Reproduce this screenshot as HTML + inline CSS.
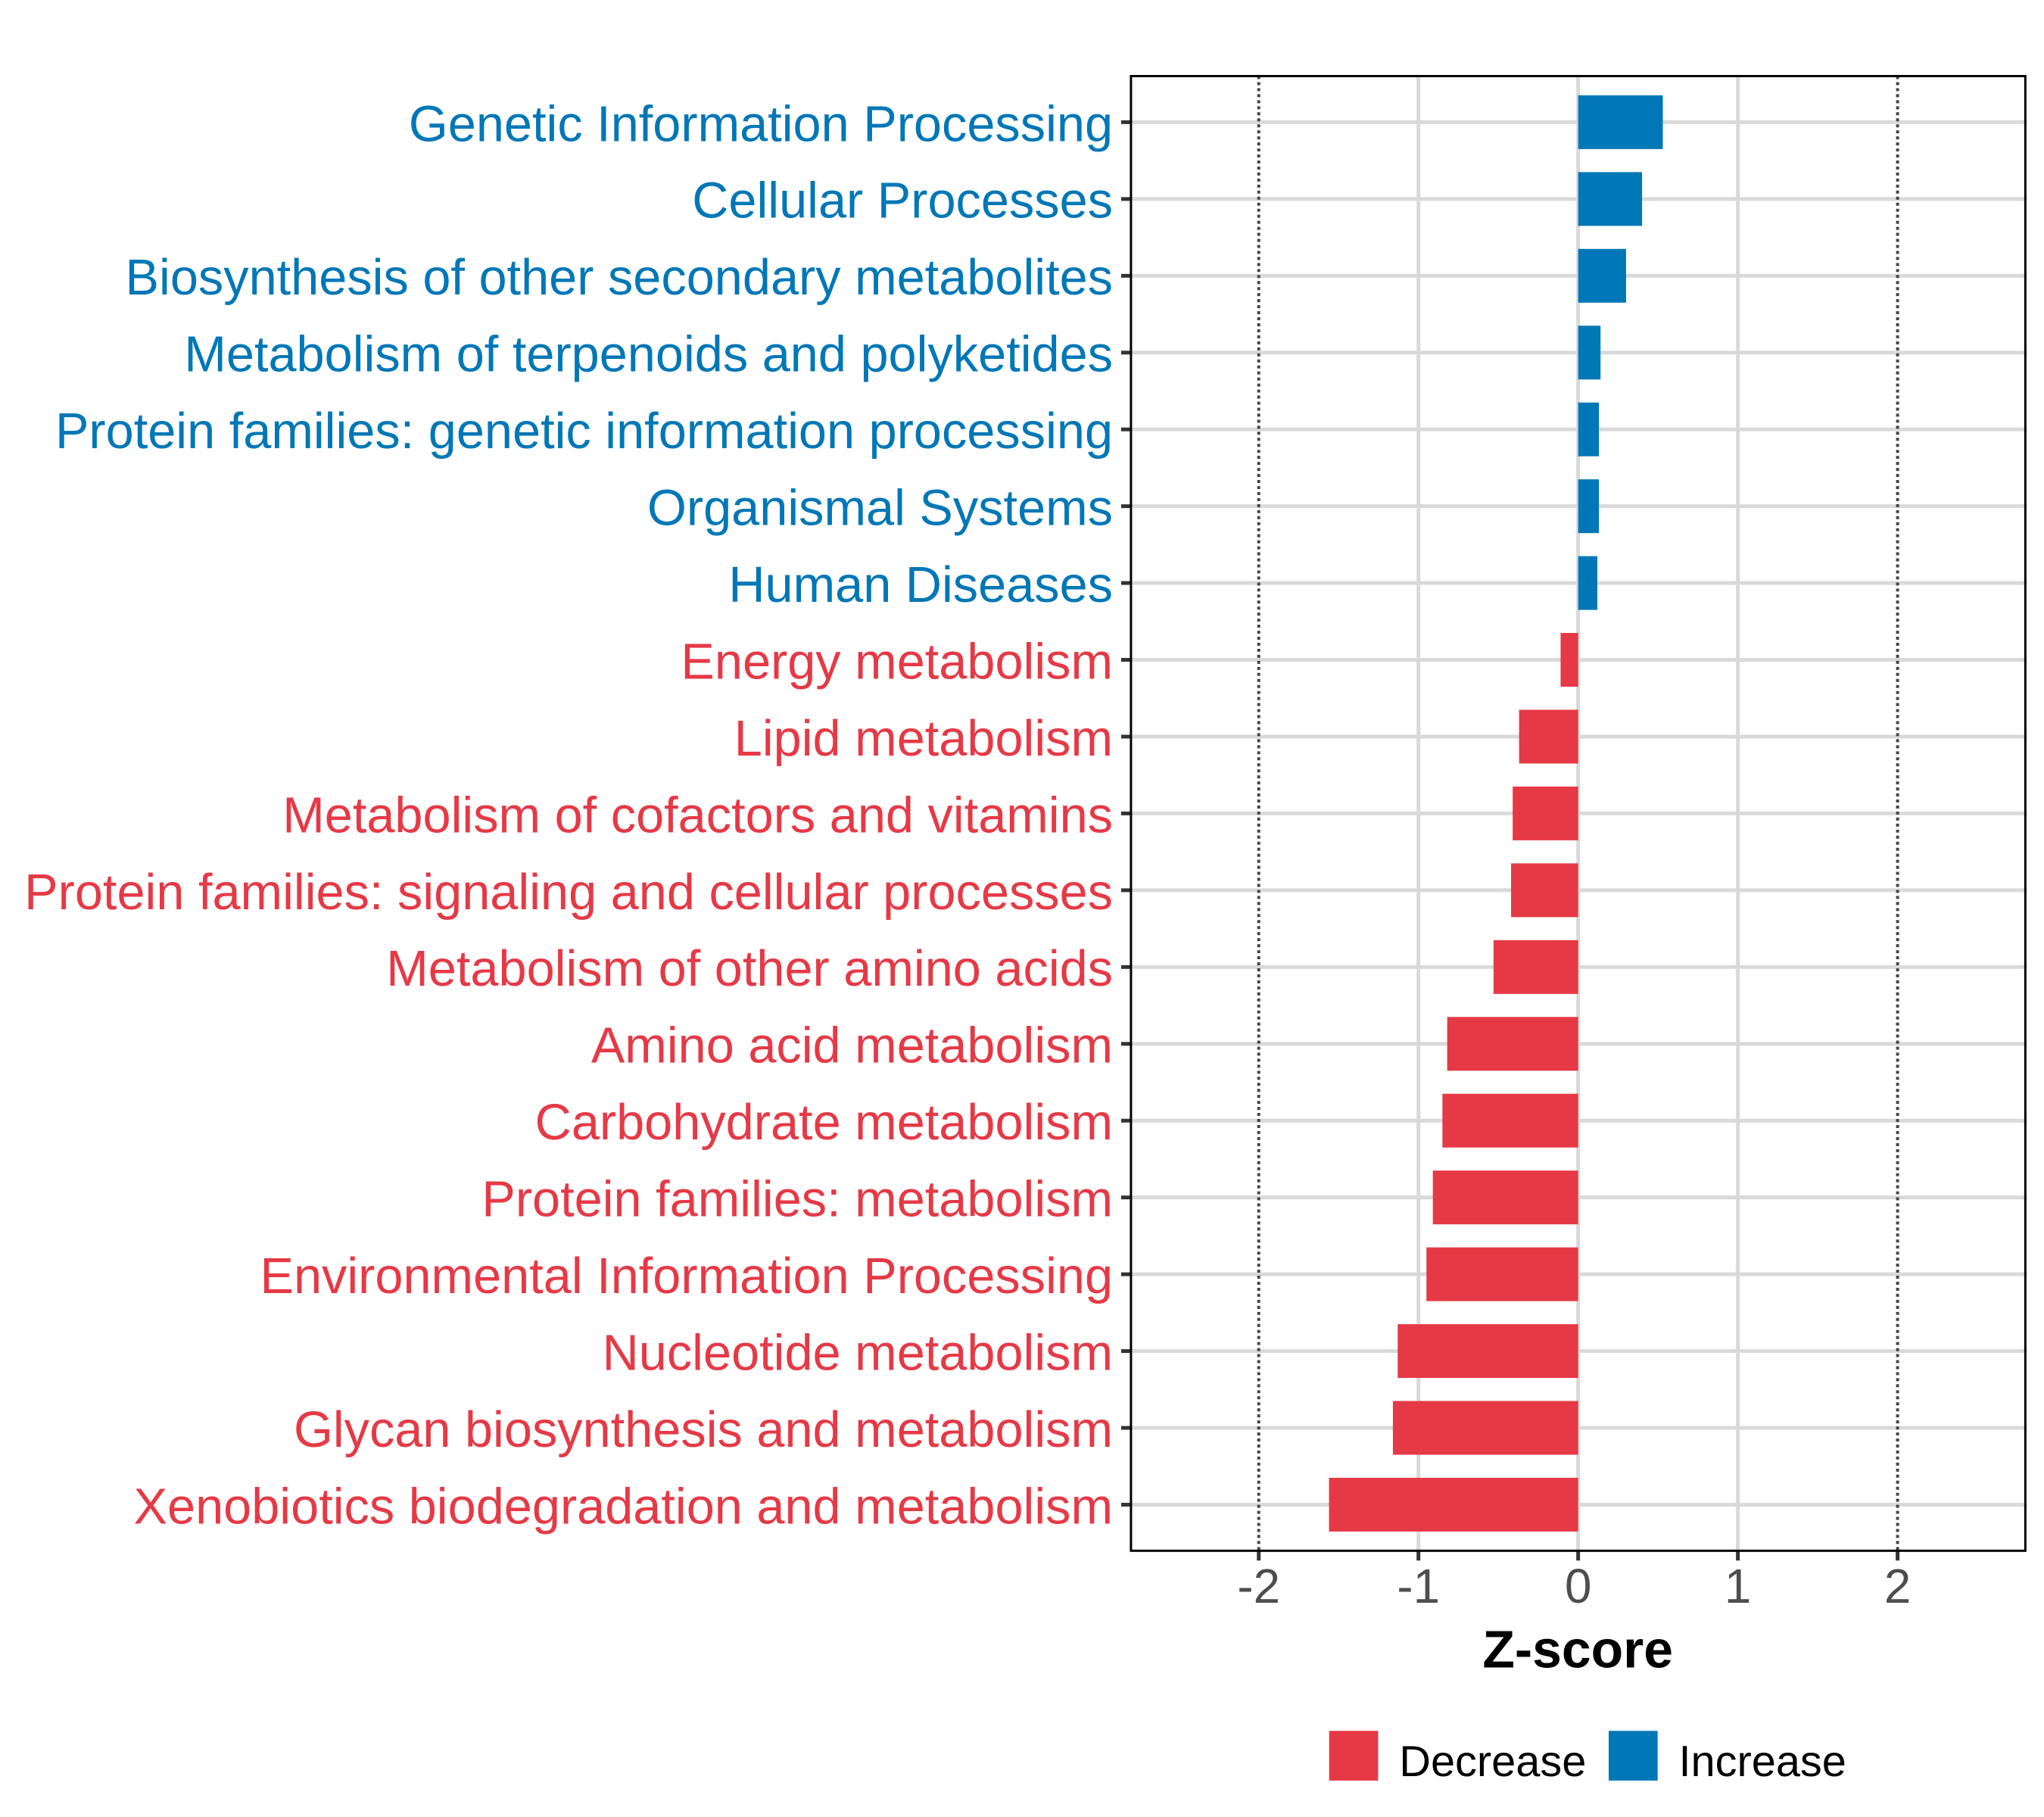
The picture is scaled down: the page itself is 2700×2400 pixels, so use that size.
<!DOCTYPE html>
<html><head><meta charset="utf-8"><style>
html,body{margin:0;padding:0;background:#fff}
svg{display:block}
text{font-family:"Liberation Sans",Arial,sans-serif}
</style></head><body>
<svg id="chart" width="2700" height="2400" viewBox="0 0 2700 2400" xmlns="http://www.w3.org/2000/svg">
<rect width="2700" height="2400" fill="#fff"/>
<g transform="scale(0.9953)">
<g id="grid"></g>
<g id="bars"></g>
<g id="ylabels"></g>
<g id="xaxis"></g>
<rect x="1501" y="101" width="1187" height="1957" fill="none" stroke="#000" stroke-width="3"/>
<text x="2094" y="2213" text-anchor="middle" font-size="70" font-weight="bold" fill="#000">Z-score</text>
<g>
<rect x="1764" y="2297" width="65" height="66" fill="#E63946"/>
<text x="1857" y="2357" font-size="58" fill="#000">Decrease</text>
<rect x="2135" y="2297" width="65" height="66" fill="#0077B6"/>
<text x="2228" y="2357" font-size="58" fill="#000">Increase</text>
</g>
</g>
</svg>
<script>
const categories = ["Genetic Information Processing","Cellular Processes","Biosynthesis of other secondary metabolites","Metabolism of terpenoids and polyketides","Protein families: genetic information processing","Organismal Systems","Human Diseases","Energy metabolism","Lipid metabolism","Metabolism of cofactors and vitamins","Protein families: signaling and cellular processes","Metabolism of other amino acids","Amino acid metabolism","Carbohydrate metabolism","Protein families: metabolism","Environmental Information Processing","Nucleotide metabolism","Glycan biosynthesis and metabolism","Xenobiotics biodegradation and metabolism"];
const zscores = [0.53,0.40,0.30,0.14,0.13,0.13,0.12,-0.11,-0.37,-0.41,-0.42,-0.53,-0.82,-0.85,-0.91,-0.95,-1.13,-1.16,-1.56];
const xTicks = [-2,-1,0,1,2];
const xTickLabels = ["-2","-1","0","1","2"];
const dottedLines = [-2,2];

const NS="http://www.w3.org/2000/svg";
const L=1501,R=2688,T=101,B=2058,xmin=-2.8,xmax=2.8;
const n=categories.length;
const band=(B-T)/(n-1+1.2);
function xs(v){return L+(v-xmin)/(xmax-xmin)*(R-L);}
function ys(i){return T+0.6*band+i*band;}
function mk(tag,attrs,parent){const e=document.createElementNS(NS,tag);for(const k in attrs)e.setAttribute(k,attrs[k]);parent.appendChild(e);return e;}
const grid=document.getElementById('grid'),bars=document.getElementById('bars'),yl=document.getElementById('ylabels'),xa=document.getElementById('xaxis');
categories.forEach((c,i)=>{
  const g=mk('line',{x1:L,x2:R,y1:ys(i),y2:ys(i),stroke:'#d9d9d9','stroke-width':5},grid);
  
  
});
xTicks.forEach(v=>{
  if(dottedLines.includes(v))return;
  const g=mk('line',{x1:xs(v),x2:xs(v),y1:T,y2:B,stroke:'#d9d9d9','stroke-width':5},grid);
  
  
});
dottedLines.forEach(v=>{
  const g=mk('line',{x1:xs(v),x2:xs(v),y1:T,y2:B,stroke:'#444','stroke-width':4,'stroke-dasharray':'4 4'},grid);
  
  
});
zscores.forEach((v,i)=>{
  const x0=xs(0),x1=xs(v),h=band*0.7;
  const col=v>=0?'#0077B6':'#E63946';
  const r=mk('rect',{x:Math.min(x0,x1),y:ys(i)-h/2,width:Math.abs(x1-x0),height:h,fill:col},bars);
  
  
  const t=mk('text',{x:1477,y:ys(i)+25,'text-anchor':'end','font-size':67,fill:col},yl);
  t.textContent=categories[i];
  
  
  const tk=mk('line',{x1:1488,x2:1501,y1:ys(i),y2:ys(i),stroke:'#333','stroke-width':5},yl);
  
  
});
xTicks.forEach((v,i)=>{
  const tk=mk('line',{x1:xs(v),x2:xs(v),y1:B,y2:B+13,stroke:'#333','stroke-width':5},xa);
  
  
  const t=mk('text',{x:xs(v),y:2127,'text-anchor':'middle','font-size':64,fill:'#4d4d4d'},xa);
  t.textContent=xTickLabels[i];
  
  
});
</script>
</body></html>
